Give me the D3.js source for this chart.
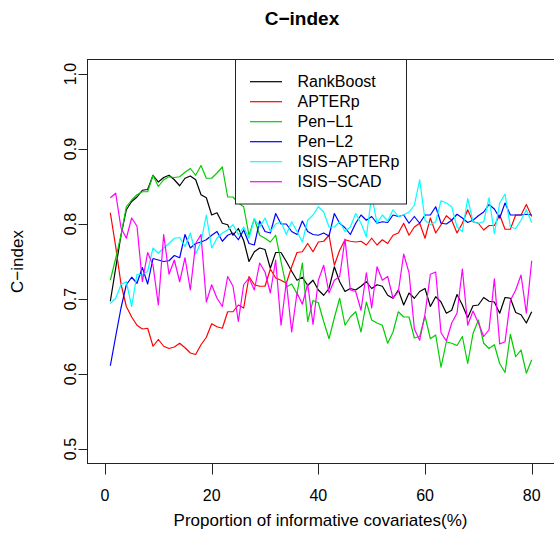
<!DOCTYPE html>
<html>
<head>
<meta charset="utf-8">
<script src="https://cdn.jsdelivr.net/npm/d3@7"></script>
<style>
  body { margin: 0; background: #fff; }
  svg { display: block; font-family: "Liberation Sans", Arial, sans-serif; }
</style>
</head>
<body>
<svg id="chart" width="554" height="550"></svg>
<script>
// C-index per proportion of informative covariates (1..80 %)
const xs = d3.range(1, 81);

const rankBoost = [
  0.697, 0.741, 0.785, 0.819, 0.830, 0.836, 0.845, 0.846, 0.865, 0.856,
  0.862, 0.865, 0.859, 0.851, 0.861, 0.864, 0.859, 0.839, 0.835, 0.812,
  0.815, 0.801, 0.799, 0.785, 0.794, 0.778, 0.750, 0.763, 0.768, 0.766,
  0.741, 0.762, 0.762, 0.750, 0.737, 0.725, 0.729, 0.718, 0.725, 0.712,
  0.705, 0.714, 0.743, 0.723, 0.710, 0.714, 0.712, 0.717, 0.723, 0.714,
  0.719, 0.717, 0.705, 0.701, 0.712, 0.692, 0.708, 0.701, 0.710, 0.714,
  0.690, 0.703, 0.696, 0.681, 0.685, 0.706, 0.692, 0.675, 0.691, 0.692,
  0.702, 0.697, 0.696, 0.681, 0.702, 0.701, 0.682, 0.679, 0.668, 0.683
];
const apterp = [
  0.815, 0.770, 0.720, 0.690, 0.676, 0.665, 0.660, 0.661, 0.637, 0.646,
  0.637, 0.634, 0.636, 0.641, 0.635, 0.628, 0.626, 0.639, 0.649, 0.667,
  0.663, 0.661, 0.683, 0.683, 0.692, 0.688, 0.730, 0.719, 0.717, 0.717,
  0.740, 0.728, 0.725, 0.721, 0.743, 0.762, 0.763, 0.774, 0.763, 0.776,
  0.777, 0.785, 0.745, 0.765, 0.779, 0.777, 0.776, 0.777, 0.772, 0.781,
  0.772, 0.779, 0.774, 0.785, 0.788, 0.801, 0.785, 0.796, 0.801, 0.781,
  0.808, 0.788, 0.799, 0.811, 0.805, 0.788, 0.801, 0.819, 0.803, 0.801,
  0.792, 0.798, 0.798, 0.812, 0.793, 0.793, 0.812, 0.812, 0.826, 0.810
];
const penL1 = [
  0.725, 0.754, 0.785, 0.823, 0.832, 0.839, 0.843, 0.843, 0.865, 0.850,
  0.859, 0.863, 0.862, 0.863, 0.869, 0.874, 0.865, 0.878, 0.861, 0.861,
  0.868, 0.876, 0.836, 0.836, 0.828, 0.823, 0.785, 0.807, 0.785, 0.781,
  0.776, 0.785, 0.750, 0.716, 0.720, 0.707, 0.748, 0.670, 0.698, 0.695,
  0.670, 0.647, 0.675, 0.701, 0.665, 0.676, 0.683, 0.656, 0.696, 0.672,
  0.668, 0.665, 0.641, 0.656, 0.683, 0.676, 0.676, 0.648, 0.650, 0.677,
  0.647, 0.652, 0.609, 0.643, 0.641, 0.638, 0.650, 0.614, 0.654, 0.672,
  0.641, 0.634, 0.639, 0.614, 0.602, 0.653, 0.623, 0.632, 0.601, 0.619
];
const penL2 = [
  0.611, 0.650, 0.688, 0.719, 0.729, 0.721, 0.742, 0.720, 0.754, 0.752,
  0.750, 0.751, 0.758, 0.755, 0.786, 0.768, 0.774, 0.776, 0.779, 0.785,
  0.790, 0.777, 0.785, 0.788, 0.779, 0.792, 0.774, 0.772, 0.804, 0.790,
  0.788, 0.814, 0.800, 0.800, 0.790, 0.786, 0.804, 0.790, 0.786, 0.785,
  0.788, 0.784, 0.814, 0.801, 0.795, 0.786, 0.801, 0.812, 0.805, 0.810,
  0.801, 0.803, 0.802, 0.812, 0.810, 0.812, 0.801, 0.810, 0.801, 0.812,
  0.812, 0.823, 0.801, 0.800, 0.805, 0.813, 0.808, 0.802, 0.805, 0.811,
  0.816, 0.826, 0.820, 0.808, 0.828, 0.812, 0.812, 0.812, 0.813, 0.812
];
const isisApterp = [
  0.694, 0.701, 0.719, 0.723, 0.690, 0.733, 0.732, 0.737, 0.768, 0.761,
  0.768, 0.774, 0.781, 0.782, 0.770, 0.788, 0.760, 0.776, 0.812, 0.768,
  0.781, 0.788, 0.792, 0.799, 0.786, 0.796, 0.781, 0.807, 0.796, 0.808,
  0.790, 0.800, 0.803, 0.786, 0.803, 0.790, 0.776, 0.805, 0.812, 0.823,
  0.816, 0.796, 0.796, 0.803, 0.790, 0.796, 0.814, 0.801, 0.783, 0.838,
  0.801, 0.812, 0.804, 0.819, 0.810, 0.812, 0.816, 0.825, 0.859, 0.805,
  0.799, 0.803, 0.831, 0.828, 0.823, 0.796, 0.790, 0.834, 0.803, 0.801,
  0.803, 0.835, 0.787, 0.828, 0.840, 0.796, 0.794, 0.805, 0.819, 0.802
];
const isisScad = [
  0.835, 0.841, 0.795, 0.781, 0.808, 0.797, 0.723, 0.762, 0.745, 0.692,
  0.786, 0.733, 0.752, 0.723, 0.755, 0.712, 0.774, 0.786, 0.696, 0.719,
  0.701, 0.690, 0.730, 0.717, 0.670, 0.719, 0.728, 0.712, 0.748, 0.736,
  0.708, 0.752, 0.665, 0.723, 0.656, 0.708, 0.693, 0.720, 0.666, 0.725,
  0.745, 0.708, 0.725, 0.730, 0.780, 0.712, 0.710, 0.685, 0.735, 0.688,
  0.743, 0.725, 0.730, 0.701, 0.710, 0.760, 0.735, 0.660, 0.645, 0.680,
  0.733, 0.736, 0.655, 0.644, 0.668, 0.681, 0.740, 0.665, 0.684, 0.668,
  0.650, 0.659, 0.727, 0.640, 0.643, 0.698, 0.712, 0.732, 0.681, 0.751
];

const seriesNames = ["RankBoost", "APTERp", "Pen\u2212L1", "Pen\u2212L2", "ISIS\u2212APTERp", "ISIS\u2212SCAD"];
const seriesValues = [rankBoost, apterp, penL1, penL2, isisApterp, isisScad];
const seriesColors = ["#000000", "#ff0000", "#00cd00", "#0000ff", "#00ffff", "#ff00ff"];

const xTicks = [0, 20, 40, 60, 80];
const yTicks = [0.5, 0.6, 0.7, 0.8, 0.9, 1.0];

const svg = d3.select("#chart");

// plot region (R style box), right edge runs off the picture
const box = { left: 87.5, top: 59.5, right: 554.5, bottom: 463.5 };

const x = d3.scaleLinear().domain([0, 80]).range([105, 531.7]);
const y = d3.scaleLinear().domain([0.5, 1.0]).range([449, 74]);

const xTick = 11;
const yTick = 9;
const fontSize = 16;

// lines
const line = d3.line()
  .x((d, i) => x(xs[i]))
  .y(d => y(d));

svg.append("g")
  .selectAll("path")
  .data(seriesValues)
  .join("path")
  .attr("d", d => line(d))
  .attr("fill", "none")
  .attr("stroke", (d, i) => seriesColors[i])
  .attr("stroke-width", 1.2)
  .attr("stroke-linejoin", "round");

// box
svg.append("rect")
  .attr("x", box.left)
  .attr("y", box.top)
  .attr("width", box.right - box.left)
  .attr("height", box.bottom - box.top)
  .attr("fill", "none")
  .attr("stroke", "#222")
  .attr("stroke-width", 1);

// x axis
const xAxis = svg.append("g");
xAxis.selectAll("line")
  .data(xTicks)
  .join("line")
  .attr("x1", d => Math.round(x(d)) + 0.5)
  .attr("x2", d => Math.round(x(d)) + 0.5)
  .attr("y1", box.bottom)
  .attr("y2", box.bottom + xTick)
  .attr("stroke", "#222");
xAxis.selectAll("text")
  .data(xTicks)
  .join("text")
  .attr("x", d => x(d))
  .attr("y", 501)
  .attr("text-anchor", "middle")
  .attr("font-size", fontSize)
  .text(d => d);

// y axis
const yAxis = svg.append("g");
yAxis.selectAll("line")
  .data(yTicks)
  .join("line")
  .attr("x1", box.left - yTick)
  .attr("x2", box.left)
  .attr("y1", d => Math.round(y(d)) + 0.5)
  .attr("y2", d => Math.round(y(d)) + 0.5)
  .attr("stroke", "#222");
yAxis.selectAll("text")
  .data(yTicks)
  .join("text")
  .attr("transform", d => `translate(76,${y(d)}) rotate(-90)`)
  .attr("text-anchor", "middle")
  .attr("font-size", fontSize)
  .text(d => d.toFixed(1));

// titles
svg.append("text")
  .attr("x", 302)
  .attr("y", 25)
  .attr("text-anchor", "middle")
  .attr("font-size", 19)
  .attr("font-weight", "bold")
  .text("C\u2212index");

svg.append("text")
  .attr("x", 320.5)
  .attr("y", 526)
  .attr("text-anchor", "middle")
  .attr("font-size", 17)
  .text("Proportion of informative covariates(%)");

svg.append("text")
  .attr("transform", `translate(23,${(box.top + box.bottom) / 2}) rotate(-90)`)
  .attr("text-anchor", "middle")
  .attr("font-size", 17)
  .text("C\u2212index");

// legend
const leg = svg.append("g");
leg.append("rect")
  .attr("x", 235.5)
  .attr("y", box.top)
  .attr("width", 171)
  .attr("height", 144.5)
  .attr("fill", "#fff")
  .attr("stroke", "#222");

const rows = leg.selectAll("g.row")
  .data(seriesNames)
  .join("g")
  .attr("class", "row")
  .attr("transform", (d, i) => `translate(0,${81.7 + i * 20})`);
rows.append("line")
  .attr("x1", 250)
  .attr("x2", 282)
  .attr("stroke", (d, i) => seriesColors[i])
  .attr("stroke-width", 1.2);
rows.append("text")
  .attr("x", 297.5)
  .attr("dy", "0.36em")
  .attr("font-size", fontSize)
  .text(d => d);
</script>
</body>
</html>
